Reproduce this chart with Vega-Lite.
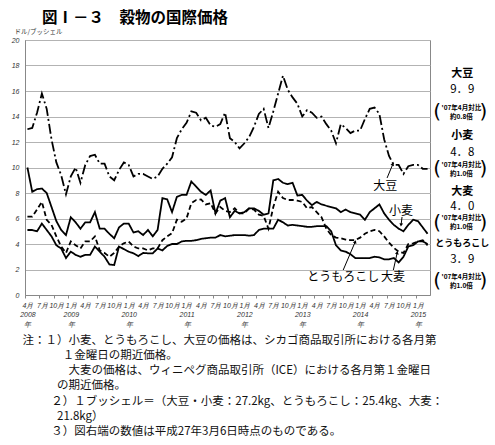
{
  "$schema": "https://vega.github.io/schema/vega-lite/v6.json",
  "width": 405,
  "height": 255,
  "autosize": {"type": "none"},
  "padding": {"left": 25, "top": 40, "right": 65, "bottom": 150},
  "background": "white",
  "config": {"view": {"stroke": "#888", "strokeWidth": 1}, "font": "Noto Sans CJK JP"},
  "title": {"text": "図Ⅰ－３　穀物の国際価格", "anchor": "start", "frame": "group", "dx": 17, "offset": 2, "fontSize": 15.5, "fontWeight": "bold", "font": "Noto Sans CJK JP", "color": "black"},
  "datasets": {
    "prices": [
      {"m":0,"soy":13.0,"wheat":10.0,"corn":6.15,"barley":5.1},
      {"m":1,"soy":13.1,"wheat":8.1,"corn":6.15,"barley":5.1},
      {"m":2,"soy":14.3,"wheat":8.3,"corn":6.7,"barley":5.0},
      {"m":3,"soy":15.8,"wheat":8.35,"corn":7.3,"barley":5.6},
      {"m":4,"soy":14.6,"wheat":8.0,"corn":5.9,"barley":5.1},
      {"m":5,"soy":12.2,"wheat":6.9,"corn":5.5,"barley":4.6},
      {"m":6,"soy":10.4,"wheat":5.8,"corn":4.6,"barley":3.9},
      {"m":7,"soy":9.4,"wheat":5.1,"corn":3.8,"barley":3.65},
      {"m":8,"soy":7.9,"wheat":4.7,"corn":3.3,"barley":2.9},
      {"m":9,"soy":9.3,"wheat":6.1,"corn":4.2,"barley":3.4},
      {"m":10,"soy":10.0,"wheat":5.7,"corn":3.9,"barley":3.15},
      {"m":11,"soy":8.8,"wheat":5.2,"corn":3.65,"barley":3.0},
      {"m":12,"soy":10.2,"wheat":5.7,"corn":4.2,"barley":3.15},
      {"m":13,"soy":10.9,"wheat":5.7,"corn":4.2,"barley":3.15},
      {"m":14,"soy":11.0,"wheat":6.5,"corn":4.6,"barley":3.8},
      {"m":15,"soy":10.3,"wheat":5.2,"corn":3.5,"barley":3.4},
      {"m":16,"soy":10.3,"wheat":5.2,"corn":3.3,"barley":3.0},
      {"m":17,"soy":9.3,"wheat":4.8,"corn":3.0,"barley":2.4},
      {"m":18,"soy":9.0,"wheat":4.45,"corn":3.3,"barley":2.35},
      {"m":19,"soy":9.8,"wheat":5.3,"corn":3.8,"barley":3.8},
      {"m":20,"soy":10.4,"wheat":5.6,"corn":4.05,"barley":3.6},
      {"m":21,"soy":10.2,"wheat":5.6,"corn":4.2,"barley":3.4},
      {"m":22,"soy":9.3,"wheat":4.9,"corn":3.8,"barley":3.27},
      {"m":23,"soy":9.5,"wheat":5.0,"corn":3.65,"barley":3.05},
      {"m":24,"soy":9.5,"wheat":4.7,"corn":3.65,"barley":3.3},
      {"m":25,"soy":9.3,"wheat":5.1,"corn":3.5,"barley":3.27},
      {"m":26,"soy":9.1,"wheat":4.6,"corn":3.65,"barley":3.27},
      {"m":27,"soy":9.3,"wheat":5.1,"corn":3.65,"barley":3.65},
      {"m":28,"soy":9.9,"wheat":7.6,"corn":4.3,"barley":3.5},
      {"m":29,"soy":10.3,"wheat":7.5,"corn":4.6,"barley":3.85},
      {"m":30,"soy":10.8,"wheat":6.5,"corn":4.85,"barley":4.0},
      {"m":31,"soy":12.3,"wheat":7.7,"corn":5.9,"barley":4.0},
      {"m":32,"soy":13.0,"wheat":7.85,"corn":5.75,"barley":4.2},
      {"m":33,"soy":13.5,"wheat":7.85,"corn":6.0,"barley":4.25},
      {"m":34,"soy":14.4,"wheat":8.9,"corn":7.2,"barley":4.25},
      {"m":35,"soy":14.3,"wheat":8.5,"corn":7.45,"barley":4.3},
      {"m":36,"soy":13.7,"wheat":8.1,"corn":7.5,"barley":4.4},
      {"m":37,"soy":13.9,"wheat":7.85,"corn":7.1,"barley":4.45},
      {"m":38,"soy":13.3,"wheat":8.2,"corn":7.2,"barley":4.5},
      {"m":39,"soy":13.2,"wheat":6.4,"corn":6.4,"barley":4.5},
      {"m":40,"soy":13.4,"wheat":7.4,"corn":6.9,"barley":4.7},
      {"m":41,"soy":14.3,"wheat":7.6,"corn":6.6,"barley":4.6},
      {"m":42,"soy":12.3,"wheat":6.1,"corn":6.5,"barley":4.65},
      {"m":43,"soy":12.0,"wheat":6.6,"corn":6.8,"barley":4.7},
      {"m":44,"soy":11.5,"wheat":6.4,"corn":6.4,"barley":4.7},
      {"m":45,"soy":11.9,"wheat":6.5,"corn":6.4,"barley":4.7},
      {"m":46,"soy":12.4,"wheat":6.8,"corn":6.8,"barley":4.65},
      {"m":47,"soy":13.2,"wheat":6.8,"corn":6.7,"barley":4.7},
      {"m":48,"soy":14.2,"wheat":6.6,"corn":6.3,"barley":5.1},
      {"m":49,"soy":14.6,"wheat":6.3,"corn":6.2,"barley":5.2},
      {"m":50,"soy":13.1,"wheat":6.4,"corn":5.2,"barley":5.2},
      {"m":51,"soy":14.4,"wheat":9.0,"corn":6.9,"barley":5.2},
      {"m":52,"soy":15.8,"wheat":9.1,"corn":8.1,"barley":5.9},
      {"m":53,"soy":17.2,"wheat":8.8,"corn":7.6,"barley":5.7},
      {"m":54,"soy":16.1,"wheat":8.7,"corn":7.45,"barley":5.45},
      {"m":55,"soy":15.5,"wheat":8.8,"corn":7.45,"barley":5.5},
      {"m":56,"soy":15.0,"wheat":7.8,"corn":7.4,"barley":5.45},
      {"m":57,"soy":14.0,"wheat":7.85,"corn":7.3,"barley":5.4},
      {"m":58,"soy":14.5,"wheat":7.4,"corn":6.8,"barley":5.35},
      {"m":59,"soy":14.3,"wheat":7.05,"corn":6.9,"barley":5.35},
      {"m":60,"soy":13.9,"wheat":7.3,"corn":6.5,"barley":5.4},
      {"m":61,"soy":14.0,"wheat":7.1,"corn":6.1,"barley":5.4},
      {"m":62,"soy":13.4,"wheat":7.0,"corn":5.2,"barley":5.4},
      {"m":63,"soy":12.9,"wheat":6.9,"corn":4.7,"barley":5.0},
      {"m":64,"soy":11.9,"wheat":6.8,"corn":4.5,"barley":3.9},
      {"m":65,"soy":13.4,"wheat":6.5,"corn":4.45,"barley":3.5},
      {"m":66,"soy":13.1,"wheat":6.7,"corn":4.35,"barley":3.4},
      {"m":67,"soy":12.7,"wheat":6.5,"corn":4.3,"barley":3.2},
      {"m":68,"soy":12.9,"wheat":6.4,"corn":4.3,"barley":2.9},
      {"m":69,"soy":12.9,"wheat":6.3,"corn":4.5,"barley":2.9},
      {"m":70,"soy":13.8,"wheat":5.9,"corn":4.8,"barley":2.9},
      {"m":71,"soy":14.6,"wheat":6.5,"corn":5.0,"barley":2.9},
      {"m":72,"soy":14.7,"wheat":6.8,"corn":5.1,"barley":3.0},
      {"m":73,"soy":14.2,"wheat":7.1,"corn":5.0,"barley":2.95},
      {"m":74,"soy":12.2,"wheat":6.4,"corn":4.6,"barley":2.8},
      {"m":75,"soy":10.9,"wheat":5.9,"corn":4.1,"barley":2.8},
      {"m":76,"soy":10.2,"wheat":5.5,"corn":3.7,"barley":2.9},
      {"m":77,"soy":10.2,"wheat":5.2,"corn":3.4,"barley":2.55},
      {"m":78,"soy":9.5,"wheat":5.0,"corn":3.3,"barley":3.0},
      {"m":79,"soy":10.1,"wheat":5.5,"corn":4.0,"barley":3.8},
      {"m":80,"soy":10.2,"wheat":5.9,"corn":4.05,"barley":3.9},
      {"m":81,"soy":10.2,"wheat":5.8,"corn":4.2,"barley":4.2},
      {"m":82,"soy":9.9,"wheat":5.3,"corn":4.3,"barley":4.2},
      {"m":83,"soy":9.9,"wheat":4.8,"corn":3.9,"barley":4.0}
    ],
    "labels": [
      {"k":"name","t":"大豆","m":90.2,"v":17.35},
      {"k":"val","t":"9．9","m":90.2,"v":16.05},
      {"k":"ratio","t":"'07年4月対比","m":90.0,"v":14.7},
      {"k":"ratio","t":"約0.8倍","m":90.0,"v":13.98},
      {"k":"bl","t":"(","m":85.0,"v":14.35},
      {"k":"br","t":")","m":94.6,"v":14.35},
      {"k":"name","t":"小麦","m":90.2,"v":12.5},
      {"k":"val","t":"4．8","m":90.2,"v":11.15},
      {"k":"ratio","t":"'07年4月対比","m":90.0,"v":10.22},
      {"k":"ratio","t":"約1.0倍","m":90.0,"v":9.5},
      {"k":"bl","t":"(","m":85.0,"v":9.86},
      {"k":"br","t":")","m":94.6,"v":9.86},
      {"k":"name","t":"大麦","m":90.2,"v":8.1},
      {"k":"val","t":"4．0","m":90.2,"v":6.88},
      {"k":"ratio","t":"'07年4月対比","m":90.0,"v":6.02},
      {"k":"ratio","t":"約1.0倍","m":90.0,"v":5.32},
      {"k":"bl","t":"(","m":85.0,"v":5.67},
      {"k":"br","t":")","m":94.6,"v":5.67},
      {"k":"name2","t":"とうもろこし","m":90.2,"v":4.1},
      {"k":"val","t":"3．9","m":90.2,"v":2.78},
      {"k":"ratio","t":"'07年4月対比","m":90.0,"v":1.45},
      {"k":"ratio","t":"約1.0倍","m":90.0,"v":0.72},
      {"k":"bl","t":"(","m":85.0,"v":1.1},
      {"k":"br","t":")","m":94.6,"v":1.1},
      {"k":"in","t":"大豆","m":74.2,"v":8.55},
      {"k":"in","t":"小麦","m":77.5,"v":6.59},
      {"k":"in","t":"とうもろこし","m":65.5,"v":1.41},
      {"k":"in","t":"大麦","m":75.8,"v":1.41}
    ],
    "arrows": [
      {"a":"soy","m":74.6,"v":9.18,"m2":75.8,"v2":10.27},
      {"a":"wheat","m":77.7,"v":6.12,"m2":77.5,"v2":5.49},
      {"a":"corn","m":65.5,"v":1.96,"m2":68.0,"v2":4.18},
      {"a":"barley","m":75.9,"v":1.96,"m2":76.7,"v2":3.32}
    ]
  },
  "encoding": {
    "x": {
      "field": "m", "type": "quantitative",
      "scale": {"domain": [-0.5, 83.5], "nice": false, "zero": false},
      "axis": {
        "values": [0,3,6,9,12,15,18,21,24,27,30,33,36,39,42,45,48,51,54,57,60,63,66,69,72,75,78,81],
        "labelExpr": "(datum.value % 12 == 9 || datum.value == 0) ? [((datum.value + 3) % 12 + 1) + '月', '' + (2008 + floor((datum.value + 3) / 12)), '年'] : ((datum.value + 3) % 12 + 1) + '月'",
        "grid": false, "tickSize": 3, "tickColor": "#888", "tickOffset": -2.41, "labelOffset": 2.41,
        "domainColor": "#888", "labelFont": "Liberation Sans", "labelFontStyle": "italic", "labelFontSize": 7,
        "labelColor": "#333", "labelLineHeight": 9.5, "labelPadding": 3, "labelAngle": 0, "labelOverlap": false, "labelFlush": false, "labelBound": false,
        "title": [
          "注：１）小麦、とうもろこし、大豆の価格は、シカゴ商品取引所における各月第",
          "\u200b\u3000\u3000\u3000\u2002１金曜日の期近価格。",
          "\u200b\u3000\u3000\u3000\u3000大麦の価格は、ウィニペグ商品取引所（ICE）における各月第１金曜日",
          "\u200b\u3000\u3000\u3000の期近価格。",
          "\u200b\u3000\u3000\u2002２）１ブッシェル＝（大豆・小麦：27.2kg、とうもろこし：25.4kg、大麦：",
          "\u200b\u3000\u3000\u300021.8kg）",
          "\u200b\u3000\u3000\u2002３）図右端の数値は平成27年3月6日時点のものである。"
        ],
        "titleFont": "Noto Sans CJK JP", "titleFontSize": 11.5, "titleFontWeight": "normal", "titleColor": "#111",
        "titleAlign": "left", "titleBaseline": "top", "titleX": -3, "titleY": 39, "titleLineHeight": 15.3
      }
    },
    "y": {
      "field": "v", "type": "quantitative",
      "scale": {"domain": [0, 20], "nice": false},
      "axis": {
        "values": [0,2,4,6,8,10,12,14,16,18,20],
        "grid": true, "gridColor": "#b3b3b3", "gridWidth": 1, "ticks": false, "domainColor": "#888",
        "labelFont": "Liberation Sans", "labelFontStyle": "italic", "labelFontSize": 7, "labelColor": "#333", "labelPadding": 6,
        "title": "ドル/ブッシェル", "titleFontSize": 6.5, "titleFontWeight": "normal", "titleColor": "#333",
        "titleAngle": 0, "titleAlign": "left", "titleBaseline": "middle", "titleX": -11, "titleY": -9
      }
    }
  },
  "layer": [
    {
      "data": {"name": "prices"},
      "transform": [{"fold": ["soy", "wheat", "corn", "barley"], "as": ["s", "v"]}],
      "mark": {"type": "line", "color": "black", "strokeWidth": 1.8},
      "encoding": {
        "strokeDash": {"field": "s", "type": "nominal", "scale": {"domain": ["soy", "wheat", "corn", "barley"], "range": [[10, 3, 2, 3], [1, 0], [5, 3], [1, 0]]}, "legend": null}
      }
    },
    {
      "data": {"name": "arrows"},
      "mark": {"type": "rule", "color": "black", "strokeWidth": 1},
      "encoding": {"x2": {"field": "m2"}, "y2": {"field": "v2"}}
    },
    {
      "data": {"name": "arrows"},
      "transform": [{"filter": "datum.a == 'soy' || datum.a == 'corn'"}],
      "mark": {"type": "point", "shape": "triangle-up", "filled": true, "color": "black", "size": 14, "angle": 23, "opacity": 1},
      "encoding": {"x": {"field": "m2", "type": "quantitative"}, "y": {"field": "v2", "type": "quantitative"}}
    },
    {
      "data": {"name": "arrows"},
      "transform": [{"filter": "datum.a == 'barley'"}],
      "mark": {"type": "point", "shape": "triangle-up", "filled": true, "color": "black", "size": 14, "angle": 13, "opacity": 1},
      "encoding": {"x": {"field": "m2", "type": "quantitative"}, "y": {"field": "v2", "type": "quantitative"}}
    },
    {
      "data": {"name": "arrows"},
      "transform": [{"filter": "datum.a == 'wheat'"}],
      "mark": {"type": "point", "shape": "triangle-up", "filled": true, "color": "black", "size": 14, "angle": 187, "opacity": 1},
      "encoding": {"x": {"field": "m2", "type": "quantitative"}, "y": {"field": "v2", "type": "quantitative"}}
    },
    {
      "data": {"name": "labels"},
      "transform": [{"filter": "datum.k == 'name'"}],
      "mark": {"type": "text", "fontSize": 11, "fontWeight": "bold", "align": "center", "baseline": "middle", "color": "black"},
      "encoding": {"text": {"field": "t"}}
    },
    {
      "data": {"name": "labels"},
      "transform": [{"filter": "datum.k == 'name2'"}],
      "mark": {"type": "text", "fontSize": 9, "fontWeight": "bold", "align": "center", "baseline": "middle", "color": "black"},
      "encoding": {"text": {"field": "t"}}
    },
    {
      "data": {"name": "labels"},
      "transform": [{"filter": "datum.k == 'val'"}],
      "mark": {"type": "text", "fontSize": 11.5, "align": "center", "baseline": "middle", "color": "black"},
      "encoding": {"text": {"field": "t"}}
    },
    {
      "data": {"name": "labels"},
      "transform": [{"filter": "datum.k == 'ratio'"}],
      "mark": {"type": "text", "fontSize": 6.5, "fontWeight": "bold", "align": "center", "baseline": "middle", "color": "black"},
      "encoding": {"text": {"field": "t"}}
    },
    {
      "data": {"name": "labels"},
      "transform": [{"filter": "datum.k == 'bl' || datum.k == 'br'"}],
      "mark": {"type": "text", "font": "DejaVu Sans", "fontSize": 20, "fontWeight": "normal", "align": "center", "baseline": "middle", "color": "black"},
      "encoding": {"text": {"field": "t"}}
    },
    {
      "data": {"name": "labels"},
      "transform": [{"filter": "datum.k == 'in'"}],
      "mark": {"type": "text", "fontSize": 12, "align": "center", "baseline": "middle", "color": "black"},
      "encoding": {"text": {"field": "t"}}
    }
  ]
}
